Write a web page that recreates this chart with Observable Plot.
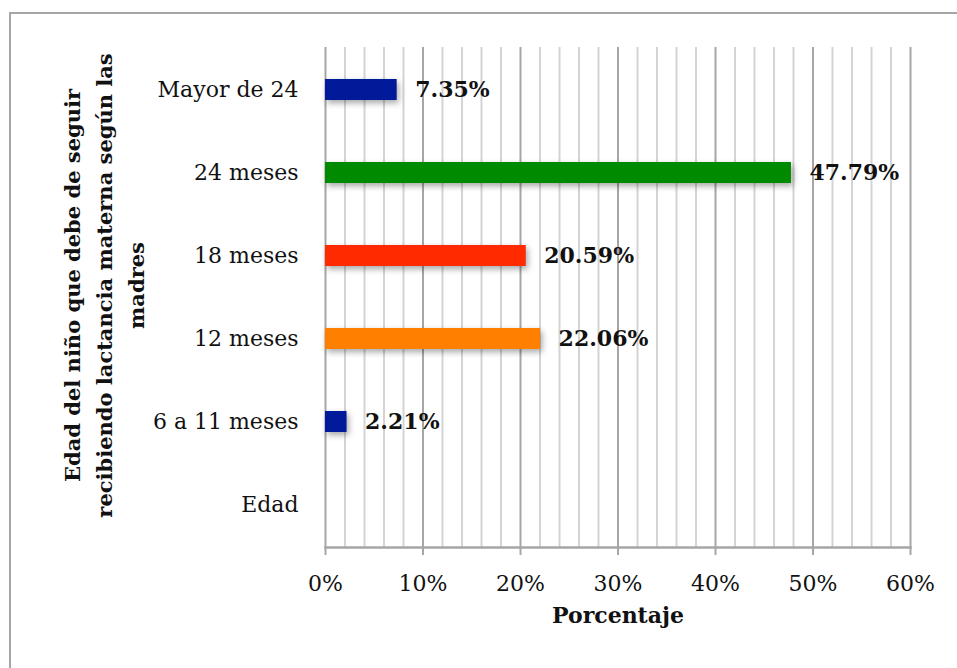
<!DOCTYPE html>
<html>
<head>
<meta charset="utf-8">
<script src="https://cdn.jsdelivr.net/npm/d3@7"></script>
<script src="https://cdn.jsdelivr.net/npm/@observablehq/plot@0.6"></script>
<style>
  html, body { margin: 0; padding: 0; background: #fff; overflow: hidden; }
  #wrap { position: relative; width: 957px; height: 668px; }
  #border { position: absolute; left: 9px; top: 12px; width: 960px; height: 670px;
            border-left: 2px solid #a6a6a6; border-top: 2px solid #a6a6a6; box-sizing: border-box; }
  #chart { position: absolute; left: 0; top: 0; }
</style>
</head>
<body>
<div id="wrap"><div id="border"></div><div id="chart"></div></div>
<script>
const categories = ["Mayor de 24", "24 meses", "18 meses", "12 meses", "6 a 11 meses", "Edad"];
const barCategories = ["Mayor de 24", "24 meses", "18 meses", "12 meses", "6 a 11 meses"];
const values = [7.35, 47.79, 20.59, 22.06, 2.21];
const palette = ["#001a99", "#008a00", "#ff2a00", "#ff7f00", "#001a99"];
const majorTicks = [0, 10, 20, 30, 40, 50, 60];
const minorTicks = [2, 4, 6, 8, 12, 14, 16, 18, 22, 24, 26, 28, 32, 34, 36, 38, 42, 44, 46, 48, 52, 54, 56, 58];
const xTitle = "Porcentaje";
const yTitle = "Edad del niño que debe de seguir\nrecibiendo lactancia materna según las\nmadres";

const data = barCategories.map((c, i) => ({cat: c, value: values[i]}));
const font = "'DejaVu Serif', serif";

const chart = Plot.plot({
  width: 957,
  height: 668,
  marginLeft: 325,
  marginRight: 47,
  marginTop: 47,
  marginBottom: 121,
  style: {fontFamily: font, background: "transparent"},
  x: {domain: [0, 60]},
  y: {domain: categories, paddingInner: 0.75, paddingOuter: 0.375},
  color: {domain: barCategories, range: palette},
  marks: [
    Plot.ruleX(minorTicks, {stroke: "#d4d4d4", strokeWidth: 2}),
    Plot.ruleX(majorTicks, {stroke: "#a6a6a6", strokeWidth: 2}),
    Plot.frame({anchor: "bottom", stroke: "#a6a6a6", strokeWidth: 2.5}),
    Plot.axisX(majorTicks, {tickFormat: d => d + "%", tickSize: 8, tickPadding: 20, fontSize: 22, stroke: "#a6a6a6", strokeWidth: 2, fill: "#111", label: null}),
    Plot.axisY({tickSize: 0, tickPadding: 27, fontSize: 22, fill: "#111", label: null}),
    Plot.barX(data, {x: "value", y: "cat", fill: "cat"}),
    Plot.text(data, {x: "value", y: "cat", text: d => d.value.toFixed(2) + "%", dx: 18, textAnchor: "start", fontWeight: "bold", fontSize: 22, fill: "#111"}),
    Plot.text([xTitle], {frameAnchor: "bottom", dy: 75, fontWeight: "bold", fontSize: 22, fill: "#111"}),
    Plot.text([yTitle], {frameAnchor: "left", rotate: -90, dx: -224, dy: -12, textAnchor: "middle", lineAnchor: "middle", lineHeight: 1.52, fontWeight: "bold", fontSize: 21, fill: "#111"})
  ]
});
d3.select(chart).selectAll("g[aria-label='bar'] rect").style("filter", "drop-shadow(2px 3px 3px rgba(0,0,0,0.35))");
document.getElementById("chart").appendChild(chart);
</script>
</body>
</html>
